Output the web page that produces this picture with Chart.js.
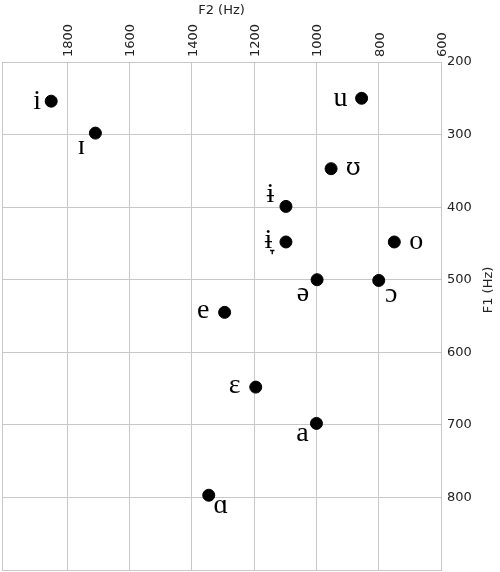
<!DOCTYPE html>
<html>
<head>
<meta charset="utf-8">
<script src="https://cdn.jsdelivr.net/npm/chart.js@4.4.0/dist/chart.umd.min.js"></script>
<style>
  html, body { margin: 0; padding: 0; background: #fff; }
  #wrap { width: 500px; height: 572px; }
</style>
</head>
<body>
<div id="wrap"><canvas id="vowelChart"></canvas></div>
<script>
// vowel formant values (Hz)
const vowels = ['i', 'ɪ', 'u', 'ʊ', 'ɨ', 'ɨ̞', 'o', 'ə', 'ɔ', 'e', 'ɛ', 'a', 'ɑ'];
const f2 = [1852, 1710, 855, 953, 1098, 1098, 750, 998, 800, 1295, 1195, 1000, 1346];
const f1 = [254, 298, 250, 347, 399, 448, 448, 500, 501, 545, 648, 698, 797];
const f2Ticks = [1800, 1600, 1400, 1200, 1000, 800, 600];
const f1Ticks = [200, 300, 400, 500, 600, 700, 800];

// where each label sits relative to its dot (style only)
const labelOffsets = [
  [-14, 1.5], [-14, 15], [-21, 1], [22, 0], [-15.5, -11], [-17.5, 0], [22, 0.5],
  [-14, 15], [12.5, 15], [-21.5, -1], [-21, 0], [-14, 11], [12, 11.5]
];
const LABEL_FONT = '28px "Liberation Serif", "DejaVu Serif", serif';
const ALT_FONT = { 3: '24px "DejaVu Serif", serif' }; // nicer horseshoe for ʊ

const GRID = '#c8c8c8';
const tickFont = { family: '"DejaVu Sans", sans-serif', size: 13 };

const vowelLabels = {
  id: 'vowelLabels',
  beforeDatasetsDraw(chart) {
    // frame round the plot (left & bottom edges have no grid line)
    const { ctx, chartArea: a } = chart;
    ctx.save();
    ctx.strokeStyle = GRID;
    ctx.lineWidth = 1;
    ctx.strokeRect(a.left + 0.5, a.top + 0.5, a.right - a.left, a.bottom - a.top);
    ctx.restore();
  },
  afterDatasetsDraw(chart) {
    const ctx = chart.ctx;
    const meta = chart.getDatasetMeta(0);
    ctx.save();
    ctx.fillStyle = '#000';
    ctx.textAlign = 'center';
    ctx.textBaseline = 'alphabetic';
    meta.data.forEach((pt, i) => {
      const [dx, dy] = labelOffsets[i];
      ctx.font = ALT_FONT[i] || LABEL_FONT;
      ctx.fillText(vowels[i], pt.x + dx, pt.y + dy + 6.3);
    });
    // F1 axis title, reading upwards
    ctx.font = '13px "DejaVu Sans", sans-serif';
    ctx.fillStyle = '#222';
    ctx.translate(489, 290);
    ctx.rotate(-Math.PI / 2);
    ctx.textBaseline = 'middle';
    ctx.fillText('F1 (Hz)', 0, 0);
    ctx.restore();
  }
};

function noPad(s) {
  s.paddingLeft = 0; s.paddingRight = 0; s.paddingTop = 0; s.paddingBottom = 0;
}

new Chart(document.getElementById('vowelChart'), {
  type: 'scatter',
  data: {
    datasets: [{
      data: f2.map((x, i) => ({ x: x, y: f1[i] })),
      backgroundColor: '#000',
      borderColor: '#000',
      pointRadius: 6,
      pointHoverRadius: 6
    }]
  },
  options: {
    responsive: true,
    maintainAspectRatio: false,
    animation: false,
    layout: { autoPadding: false, padding: { left: 2, bottom: 2, top: 0, right: 0 } },
    plugins: { legend: { display: false }, tooltip: { enabled: false } },
    scales: {
      x: {
        type: 'linear',
        position: 'top',
        reverse: true,
        min: 600,
        max: 2010,
        afterBuildTicks: s => { s.ticks = f2Ticks.map(v => ({ value: v })); },
        afterFit: s => { s.height = 62; noPad(s); },
        grid: { color: GRID, drawTicks: false },
        border: { color: GRID },
        ticks: {
          minRotation: 90,
          maxRotation: 90,
          padding: 5,
          labelOffset: 17,
          color: '#222',
          font: tickFont,
          callback: v => String(v)
        },
        title: {
          display: true,
          text: 'F2 (Hz)',
          color: '#222',
          padding: { top: 3, bottom: 0 },
          font: tickFont
        }
      },
      y: {
        type: 'linear',
        position: 'right',
        reverse: true,
        min: 200,
        max: 900,
        afterBuildTicks: s => { s.ticks = f1Ticks.map(v => ({ value: v })); },
        afterFit: s => { s.width = 59; noPad(s); },
        grid: { color: GRID, drawTicks: false },
        border: { color: GRID },
        ticks: {
          padding: 6,
          color: '#222',
          font: tickFont,
          callback: v => String(v)
        }
      }
    }
  },
  plugins: [vowelLabels]
});
</script>
</body>
</html>
